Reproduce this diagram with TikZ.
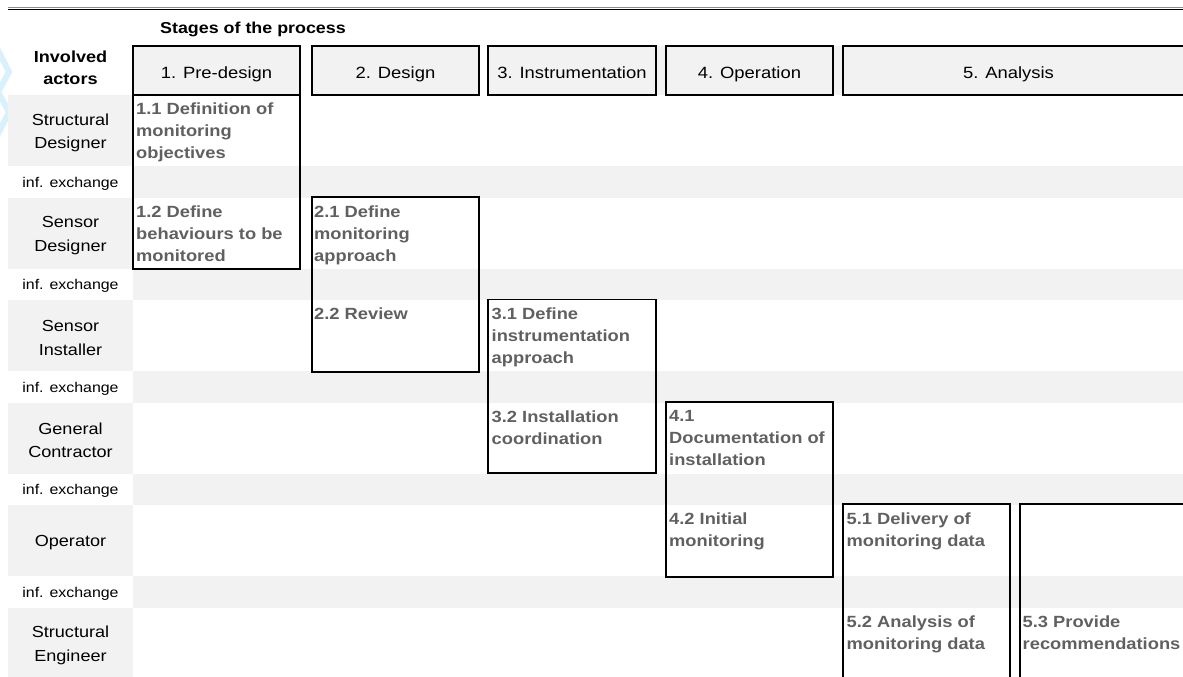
\documentclass[tikz,border=0pt]{standalone}
\usepackage{fontspec}
\setmainfont{Liberation Sans}[FakeStretch=1.13]

\definecolor{cellgrey}{RGB}{242,242,242}
\definecolor{taskgrey}{RGB}{96,96,96}
\definecolor{logoblue}{RGB}{216,241,252}

\newcommand{\stagefont}{\fontsize{16.3}{20}\selectfont}
\newcommand{\actorfont}{\fontsize{16}{23.5}\selectfont}
\newcommand{\exchfont}{\fontsize{14.1}{17}\selectfont}
\newcommand{\taskfont}{\fontsize{16.2}{22}\selectfont\bfseries}

\tikzset{
	stagebox/.style={draw, line width=1.4pt, fill=cellgrey, minimum height=49pt, inner sep=0pt,
		text height=15.6pt, text depth=0pt, font=\stagefont},
	actor/.style={align=center, inner sep=0pt, font=\actorfont},
	exch/.style={inner sep=0pt, font=\exchfont},
	task/.style={anchor=north west, align=left, inner sep=0pt, text=taskgrey, font=\taskfont},
	taskframe/.style={line width=1.3pt}
}

\begin{document}
\begin{tikzpicture}[x=1pt, y=-1pt]
	\useasboundingbox (0,0) rectangle (1183,677);

	% page rule and the edge of the logo
	\draw[black!45, line width=0.6pt] (8,7) -- (1183,7);
	\draw[line width=1.4pt] (8,9.3) -- (1183,9.3);
	\draw[logoblue, line width=6pt] (-3,48) -- (9,72) -- (-3,94);
	\draw[logoblue, line width=6pt] (-3,90) -- (9,112) -- (-3,136);

	% actor rows and information exchange rows
	\foreach \i/\who in {0/{Structural\\Designer}, 1/{Sensor\\Designer}, 2/{Sensor\\Installer},
		3/{General\\Contractor}, 4/{Operator}, 5/{Structural\\Engineer}} {
		\fill[cellgrey] (8,{95+102.5*\i}) rectangle (133,{166+102.5*\i});
		\node[actor] (act\i) at (70.5,{133+102.5*\i}) {\who};
	}
	\foreach \i in {0,...,4} {
		\fill[cellgrey] (133,{166+102.5*\i}) rectangle (1183,{197.5+102.5*\i});
		\node[exch] (inf\i) at (70.5,{183.5+102.5*\i}) {inf. exchange};
	}

	% header
	\node[anchor=west, inner sep=0pt, font=\fontsize{15.8}{19}\selectfont\bfseries] (stages) at (160,29.5) {Stages of the process};
	\node[align=center, inner sep=0pt, font=\fontsize{16}{22}\selectfont\bfseries] (actors) at (70.5,67.5) {Involved\\actors};
	\fill[cellgrey] (640,46) rectangle (1183,95);
	\node[stagebox, minimum width=167pt] (s1) at (216.5,70.5) {1. Pre-design};
	\node[stagebox, minimum width=167pt] (s2) at (395.5,70.5) {2. Design};
	\node[stagebox, minimum width=168pt] (s3) at (572,70.5) {3. Instrumentation};
	\node[stagebox, minimum width=167pt] (s4) at (749.5,70.5) {4. Operation};
	\draw[line width=1.4pt, fill=cellgrey] (843,46) rectangle (1195,95);
	\node[inner sep=0pt, text height=15.6pt, text depth=0pt, font=\stagefont] (s5) at (1008.5,70.5) {5. Analysis};

	% task frames
	\draw[taskframe] (133,95) rectangle (300,269);
	\draw[taskframe] (312,197) rectangle (479,372);
	\draw[taskframe] (488,299.5) rectangle (656,473);
	\draw[taskframe] (666,402) rectangle (833,577);
	\draw[taskframe] (843,690) -- (843,504) -- (1010,504) -- (1010,690);
	\draw[taskframe] (1020,690) -- (1020,504) -- (1195,504);

	% tasks
	\node[task] (t11) at (136,103) {1.1 Definition of\\monitoring\\objectives};
	\node[task] (t12) at (136,205.5) {1.2 Define\\behaviours to be\\monitored};
	\node[task] (t21) at (314,205.5) {2.1 Define\\monitoring\\approach};
	\node[task] (t22) at (314,308) {2.2 Review};
	\node[task] (t31) at (491.5,308) {3.1 Define\\instrumentation\\approach};
	\node[task] (t32) at (491.5,410.5) {3.2 Installation\\coordination};
	\node[task] (t41) at (669,410.5) {4.1\\Documentation of\\installation};
	\node[task] (t42) at (669,513) {4.2 Initial\\monitoring};
	\node[task] (t51) at (846.5,513) {5.1 Delivery of\\monitoring data};
	\node[task] (t52) at (846.5,615.5) {5.2 Analysis of\\monitoring data};
	\node[task] (t53) at (1022.5,615.5) {5.3 Provide\\recommendations};
\end{tikzpicture}
\end{document}
